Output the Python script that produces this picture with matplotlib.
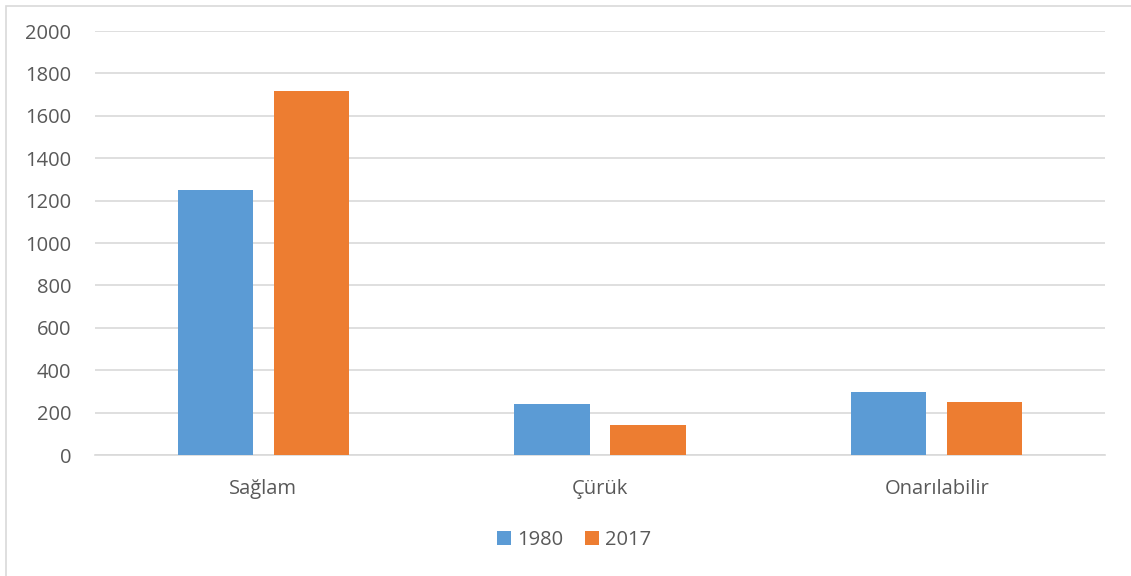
import matplotlib

matplotlib.use("Agg")
import matplotlib.pyplot as plt
import numpy as np
from matplotlib.patches import Rectangle

categories = ["Sağlam", "Çürük", "Onarılabilir"]
series_names = ["1980", "2017"]
values_1980 = [1250, 240, 296]
values_2017 = [1717, 140, 250]
y_ticks = [0, 200, 400, 600, 800, 1000, 1200, 1400, 1600, 1800, 2000]

colors = ["#5B9BD5", "#ED7D31"]
text_color = "#595959"
grid_color = "#D9D9D9"

plt.rcParams["font.family"] = ["Open Sans", "DejaVu Sans"]

fig = plt.figure(figsize=(11.31, 5.76), dpi=100)
ax = fig.add_axes([0.084, 0.21, 0.893, 0.736])

x = np.arange(len(categories))
width = 0.223
offset = 0.1426
ax.bar(x - offset, values_1980, width, color=colors[0], label=series_names[0], zorder=3)
ax.bar(x + offset, values_2017, width, color=colors[1], label=series_names[1], zorder=3)

ax.set_xlim(-0.5, len(categories) - 0.5)
ax.set_ylim(0, 2000)
ax.set_yticks(y_ticks)
ax.set_yticklabels([str(t) for t in y_ticks])
ax.set_xticks(x)
ax.set_xticklabels(categories)
ax.tick_params(axis="both", length=0, labelsize=14.5, colors=text_color)
ax.tick_params(axis="y", pad=17)
ax.tick_params(axis="x", pad=17)
ax.grid(axis="y", color=grid_color, linewidth=1.2, zorder=0)
for side in ["top", "right", "left"]:
    ax.spines[side].set_visible(False)
ax.spines["bottom"].set_color(grid_color)
ax.spines["bottom"].set_linewidth(1.2)

leg = fig.legend(
    loc="center",
    bbox_to_anchor=(0.5075, 0.062),
    ncol=2,
    frameon=False,
    fontsize=14.5,
    handlelength=0.7,
    handleheight=0.7,
    handletextpad=0.3,
    columnspacing=1.1,
)
for t in leg.get_texts():
    t.set_color(text_color)

# outer chart border
fig.patches.append(
    Rectangle((0.005, -0.01), 1.2, 1.0, transform=fig.transFigure,
              fill=False, edgecolor="#D9D9D9", linewidth=1.2)
)

fig.savefig("out.png", dpi=100)
